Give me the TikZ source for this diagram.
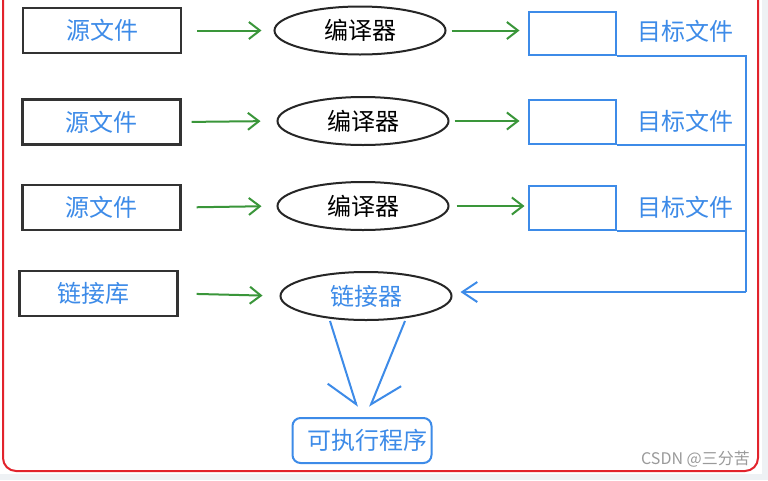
\documentclass[tikz,border=0pt]{standalone}
\usepackage{fontspec}
\newfontfamily\cjk{Noto Sans CJK SC}
\usetikzlibrary{arrows.meta,shapes.geometric}
\definecolor{tblue}{HTML}{3D8BE8}
\definecolor{tgreen}{HTML}{3A963A}
\definecolor{tred}{HTML}{E2232C}
\definecolor{bggray}{HTML}{EEF1F4}
\definecolor{wmgray}{HTML}{9A9A9A}
\begin{document}
\begin{tikzpicture}[x=1pt,y=-1pt,
  srcbox/.style={draw=black!80, line width=2.2pt, minimum width=158pt, minimum height=45pt, inner sep=0pt, text=tblue, font=\cjk\fontsize{24}{26}\selectfont},
  proc/.style={ellipse, draw=black!85, line width=2pt, minimum width=171pt, minimum height=48pt, inner sep=0pt, font=\cjk\fontsize{24}{26}\selectfont},
  objbox/.style={draw=tblue, line width=2pt, minimum width=87pt, minimum height=44pt, inner sep=0pt},
  bluelabel/.style={text=tblue, font=\cjk\fontsize{24}{26}\selectfont, inner sep=0pt},
  garrow/.style={draw=tgreen, line width=2pt, -{Straight Barb[length=11pt,width=17pt,line width=2pt]}},
  bline/.style={draw=tblue, line width=2pt},
  barrow/.style={draw=tblue, line width=2pt, -{Straight Barb[length=15pt,width=20pt,line width=2pt]}},
  downarrow/.style={draw=tblue, line width=2pt},
]
\useasboundingbox (0,0) rectangle (768,480);
\fill[white] (0,0) rectangle (768,480);
\fill[bggray] (0,474) rectangle (768,480);
\fill[bggray] (762,0) rectangle (768,480);
\draw[tred, line width=2pt, rounded corners=13pt] (3,-14) rectangle (758,471);

% source boxes
\node[srcbox] (s1) at (102,30.5) {源文件};
\node[srcbox] (s2) at (101.5,122) {源文件};
\node[srcbox] (s3) at (101.5,207.5) {源文件};
\node[srcbox] (lib) at (98.5,293.5) {\hspace*{-10pt}链接库};

% compilers
\node[proc] (e1) at (360,30.5) {编译器};
\node[proc] (e2) at (363,121) {编译器};
\node[proc] (e3) at (363,206) {编译器};
\node[proc, text=tblue] (lk) at (366,296) {链接器};

% object boxes
\node[objbox, minimum height=43pt] (o1) at (572,33.5) {};
\node[objbox] (o2) at (572,122) {};
\node[objbox] (o3) at (572,208) {};
\node[bluelabel] (t1) at (685,31) {目标文件};
\node[bluelabel] (t2) at (685,121) {目标文件};
\node[bluelabel] (t3) at (685,207) {目标文件};

% executable
\node[draw=tblue, line width=2pt, rounded corners=8pt, minimum width=139pt, minimum height=45pt, inner sep=0pt, text=tblue, font=\cjk\fontsize{24}{26}\selectfont] (exe) at (362,440.5) {\hspace*{10pt}可执行程序};

% green arrows
\draw[garrow, shorten <=15pt, shorten >=12pt] (s1.east) -- (e1.west);
\draw[garrow, shorten <=10pt, shorten >=16pt] (s2.east) -- (e2.west);
\draw[garrow, shorten <=15pt, shorten >=15pt] (s3.east) -- (e3.west);
\draw[garrow, shorten <=18pt, shorten >=17pt] (lib.east) -- (lk.west);
\draw[garrow, shorten <=5pt, shorten >=8pt] (e1.east) -- (e1.east -| o1.west);
\draw[garrow, shorten <=5pt, shorten >=8pt] (e2.east) -- (e2.east -| o2.west);
\draw[garrow, shorten <=7pt, shorten >=3pt] (e3.east) -- (e3.east -| o3.west);

% blue bus
\coordinate (j) at (746,292);
\coordinate (lt) at ([xshift=8pt]lk.east);
\draw[bline] (o1.south east) -| (j);
\draw[bline] (o2.south east) -- (o2.south east -| j);
\draw[bline] (o3.south east) -- (o3.south east -| j);
\draw[barrow] (j) -- (j -| lt);

% linker to executable
\draw[downarrow, -{Straight Barb[length=28pt,width=42pt,line width=2pt,harpoon,swap]}] ([xshift=-36pt]lk.south) -- ([xshift=-5pt,yshift=10pt]exe.north);
\draw[downarrow, -{Straight Barb[length=28pt,width=42pt,line width=2pt,harpoon]}] ([xshift=39pt]lk.south) -- ([xshift=8pt,yshift=10pt]exe.north);

% watermark
\node[text=wmgray, font=\cjk\fontsize{16}{18}\selectfont, anchor=east, inner sep=0pt] (wm) at (750,459) {CSDN @三分苦};
\end{tikzpicture}
\end{document}
